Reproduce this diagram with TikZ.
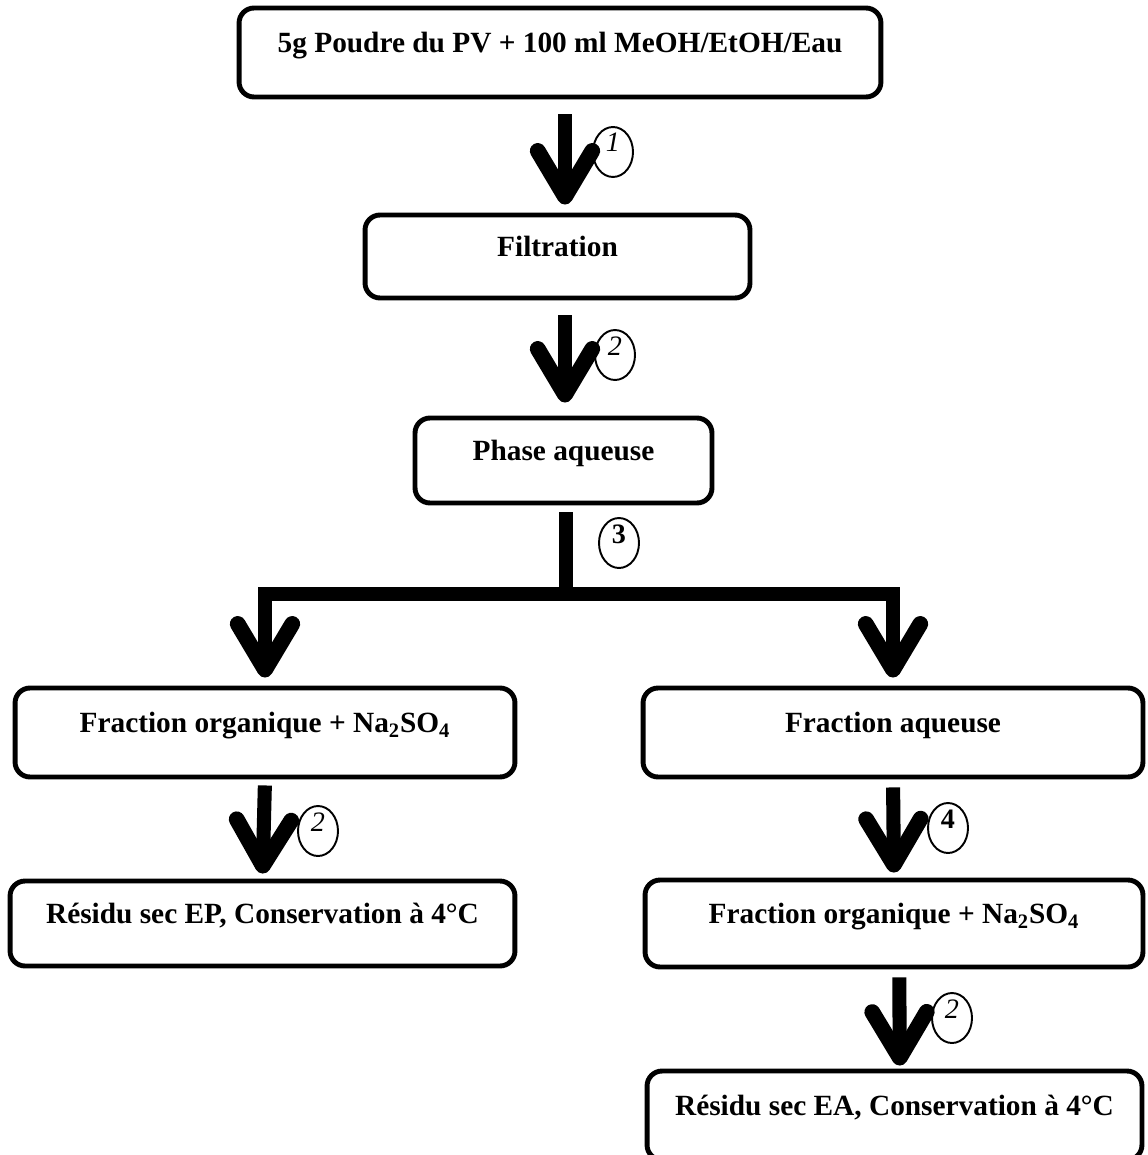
\documentclass[tikz,border=0pt]{standalone}
\usepackage{fontspec}
\setmainfont{Liberation Serif}
\usetikzlibrary{arrows.meta,shapes.geometric}

\begin{document}
\begin{tikzpicture}[x=0.02cm,y=-0.02cm]
      \tikzstyle{etape}=[draw,line width=2.8pt,rounded corners=0.3cm,inner sep=0pt,text height=0.4cm,text depth=0.4cm,font=\fontsize{16.7}{20}\selectfont\bfseries]
      \tikzstyle{num}=[draw,ellipse,line width=1.1pt,minimum width=0.8cm,minimum height=1cm,inner sep=0pt,text height=0.32cm,text depth=0.32cm,font=\fontsize{16}{19}\selectfont]
      \tikzstyle{flow}=[line width=8pt,-{Straight Barb[length=26pt,width=31pt,line width=9pt,round]}]
      \tikzstyle{trait}=[line width=8pt]

      \useasboundingbox (0,0) rectangle (1147,1155);

      \node[etape,minimum width=12.84cm,minimum height=1.78cm] (poudre) at (560,52.5) {5g Poudre du PV + 100 ml MeOH/EtOH/Eau};
      \node[etape,minimum width=7.7cm,minimum height=1.66cm] (filt) at (557.5,256.5) {Filtration};
      \node[etape,minimum width=5.94cm,minimum height=1.7cm] (phase) at (563.5,460.5) {Phase aqueuse};
      \node[etape,minimum width=10cm,minimum height=1.78cm] (orgL) at (265,732.5) {Fraction organique + Na\textsubscript{2}SO\textsubscript{4}};
      \node[etape,minimum width=10cm,minimum height=1.78cm] (aq) at (893,732.5) {Fraction aqueuse};
      \node[etape,minimum width=10.1cm,minimum height=1.7cm] (resEP) at (262.5,923.5) {Résidu sec EP, Conservation à 4°C};
      \node[etape,minimum width=9.96cm,minimum height=1.74cm] (orgR) at (894,923.5) {Fraction organique + Na\textsubscript{2}SO\textsubscript{4}};
      \node[etape,minimum width=9.9cm,minimum height=1.78cm] (resEA) at (894.5,1115.5) {Résidu sec EA, Conservation à 4°C};

      \coordinate (colA) at (565,0);
      \coordinate (split) at (566,594);

      \node[num] (n1) at (613,152) {\itshape 1};
      \node[num] (n2) at (615,355) {\itshape 2};
      \node[num] (n3) at (619,543) {\bfseries 3};
      \node[num] (n2L) at (318,831) {\itshape 2};
      \node[num] (n4) at (948,828) {\bfseries 4};
      \node[num] (n2R) at (952,1018) {\itshape 2};

      \draw[flow,shorten <=0.3cm,shorten >=0.16cm] (poudre.south -| colA) -- (filt.north -| colA);
      \draw[flow,shorten <=0.3cm,shorten >=0.26cm] (filt.south -| colA) -- (phase.north -| colA);
      \draw[trait,shorten <=0.14cm] (phase.south -| split) -- (split);
      \draw[flow,shorten >=0.16cm] (split) -| (orgL.north);
      \draw[flow,shorten >=0.16cm] (split) -| (aq.north);
      \draw[flow,shorten <=0.12cm,shorten >=0.1cm] (orgL.south) -- (resEP.north);
      \draw[flow,shorten <=0.16cm,shorten >=0.1cm] (aq.south) -- (orgR.north);
      \draw[flow,shorten <=0.16cm,shorten >=0.06cm] ([xshift=3pt]orgR.south) -- ([xshift=3pt]resEA.north);
\end{tikzpicture}
\end{document}
